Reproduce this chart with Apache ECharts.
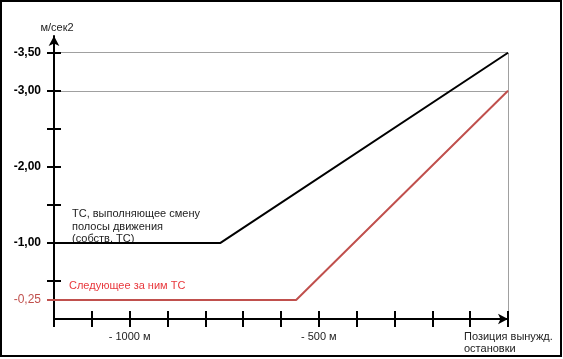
<!DOCTYPE html>
<html>
<head>
<meta charset="utf-8">
<script src="https://cdn.jsdelivr.net/npm/echarts@6/dist/echarts.min.js"></script>
<style>
html,body{margin:0;padding:0;background:#fff;}
#c{width:563px;height:359px;}
</style>
</head>
<body>
<div id="c"></div>
<script>
// Distances to the forced stop position, m
var ownX = [-1200, -760, 0];
var ownY = [-1.0, -1.0, -3.5];
var followX = [-1200, -560, 0];
var followY = [-0.25, -0.25, -3.0];
// Axis ticks / labels
var yTicks = [-3.5, -3.0, -2.5, -2.0, -1.5, -1.0, -0.5];
var yLabels = [-3.5, -3.0, -2.0, -1.0, -0.25];
var xLabelValues = [-1000, -500, 0];
var xLabelTexts = ['- 1000 м', '- 500 м', 'Позиция вынужд.\nостановки'];
var yName = 'м/сек2';
var ownName = 'ТС, выполняющее смену\nполосы движения\n(собств. ТС)';
var followName = 'Следующее за ним ТС';

var FONT = '"Liberation Sans", Arial, sans-serif';
var RED_LINE = '#c0504d';
var RED_TEXT = '#e8383d';
var X_MIN = -1200, X_MAX = 0, X_INT = 100, Y_MIN = -3.72, Y_MAX = 0;

function pairs(xs, ys){ return xs.map(function(x,i){ return [x, ys[i]]; }); }

var chart = echarts.init(document.getElementById('c'), null, {renderer:'canvas'});
var G = {left:54, top:36, right:55, bottom:40};

function baseX(gi){ return {type:'value', gridIndex:gi, min:X_MIN, max:X_MAX, interval:X_INT, position:'bottom', splitLine:{show:false}, z:5}; }
function baseY(gi){ return {type:'value', gridIndex:gi, min:Y_MIN, max:Y_MAX, inverse:true, position:'left', splitLine:{show:false}, z:5}; }
function merge(a,b){ for (var k in b) a[k]=b[k]; return a; }

var option = {
  animation:false,
  textStyle:{fontFamily:FONT},
  grid:[merge({},G), merge({},G), merge({},G)],
  xAxis:[
    merge(baseX(0), {
      axisLine:{show:true, onZero:false, symbol:['none','arrow'], symbolSize:[8,10], lineStyle:{color:'#000', width:2}},
      axisTick:{show:true, inside:false, length:8, lineStyle:{color:'#000', width:2}},
      axisLabel:{
        show:true, margin:12, color:'#222', fontSize:11, fontFamily:FONT, lineHeight:12,
        showMinLabel:true, showMaxLabel:true,
        formatter:function(v){
          var i = xLabelValues.indexOf(v);
          if (i < 0) return '';
          if (v === 0) {
            return xLabelTexts[i].split('\n').map(function(s){ return '{l|' + s + '}'; }).join('\n');
          }
          return xLabelTexts[i];
        },
        rich:{ l:{width:88, align:'left', fontSize:11, lineHeight:12, color:'#222', fontFamily:FONT} }
      }
    }),
    merge(baseX(1), {
      axisLine:{show:false, onZero:false}, axisLabel:{show:false},
      axisTick:{show:true, inside:true, length:8, lineStyle:{color:'#000', width:2}}
    }),
    merge(baseX(2), {show:false, axisLine:{show:false, onZero:false}})
  ],
  yAxis:[
    merge(baseY(0), {
      name:yName, nameLocation:'start', nameGap:3,
      nameTextStyle:{color:'#222', fontSize:11, fontFamily:FONT, align:'center', verticalAlign:'bottom', padding:[0,0,0,6]},
      axisLine:{show:true, onZero:false, symbol:['none','arrow'], symbolSize:[8,10], lineStyle:{color:'#000', width:2}},
      axisTick:{show:true, inside:false, length:7, customValues:yTicks, lineStyle:{color:'#000', width:2}},
      axisLabel:{
        show:true, margin:13, customValues:yLabels, color:'#000', fontSize:12, fontWeight:'bold', fontFamily:FONT,
        formatter:function(v){
          var s = v.toFixed(2).replace('.', ',');
          if (Math.abs(v - followY[0]) < 1e-9) return '{r|' + s + '}';
          return s;
        },
        rich:{ r:{color:RED_LINE, fontSize:12, fontWeight:'normal', fontFamily:FONT} }
      }
    }),
    merge(baseY(1), {
      axisLine:{show:false, onZero:false}, axisLabel:{show:false},
      axisTick:{show:true, inside:true, length:7, customValues:yTicks, lineStyle:{color:'#000', width:2}}
    }),
    merge(baseY(2), {
      axisLine:{show:false, onZero:false}, axisLabel:{show:false},
      axisTick:{show:true, inside:false, length:7, customValues:[followY[0]], lineStyle:{color:RED_LINE, width:2}}
    })
  ],
  series:[{
    type:'line', name:'grid', data:[], z:1, silent:true,
    markLine:{
      silent:true, symbol:['none','none'], label:{show:false},
      lineStyle:{color:'#a0a0a0', width:1, type:'solid'},
      emphasis:{disabled:true},
      data:[
        [{coord:[ownX[0], ownY[2]]},{coord:[ownX[2], ownY[2]]}],
        [{coord:[followX[0], followY[2]]},{coord:[followX[2], followY[2]]}],
        [{coord:[ownX[2], ownY[2]]},{coord:[ownX[2], 0]}]
      ]
    }
  },{
    type:'line', name:'own', data:pairs(ownX, ownY), z:6, symbol:'none', silent:true,
    lineStyle:{color:'#000', width:2}
  },{
    type:'line', name:'follow', data:pairs(followX, followY), z:6, symbol:'none', silent:true,
    lineStyle:{color:RED_LINE, width:2}
  }],
  graphic:[{
    type:'rect', silent:true, z:100,
    shape:{x:1, y:1, width:560, height:355},
    style:{fill:null, stroke:'#000', lineWidth:2}
  },{
    type:'text', silent:true, left:72, top:208,
    style:{text:ownName, fill:'#222', font:'11px ' + FONT, lineHeight:12.5}
  },{
    type:'text', silent:true, left:69, top:280,
    style:{text:followName, fill:RED_TEXT, font:'11px ' + FONT}
  }]
};
chart.setOption(option);
</script>
</body>
</html>
